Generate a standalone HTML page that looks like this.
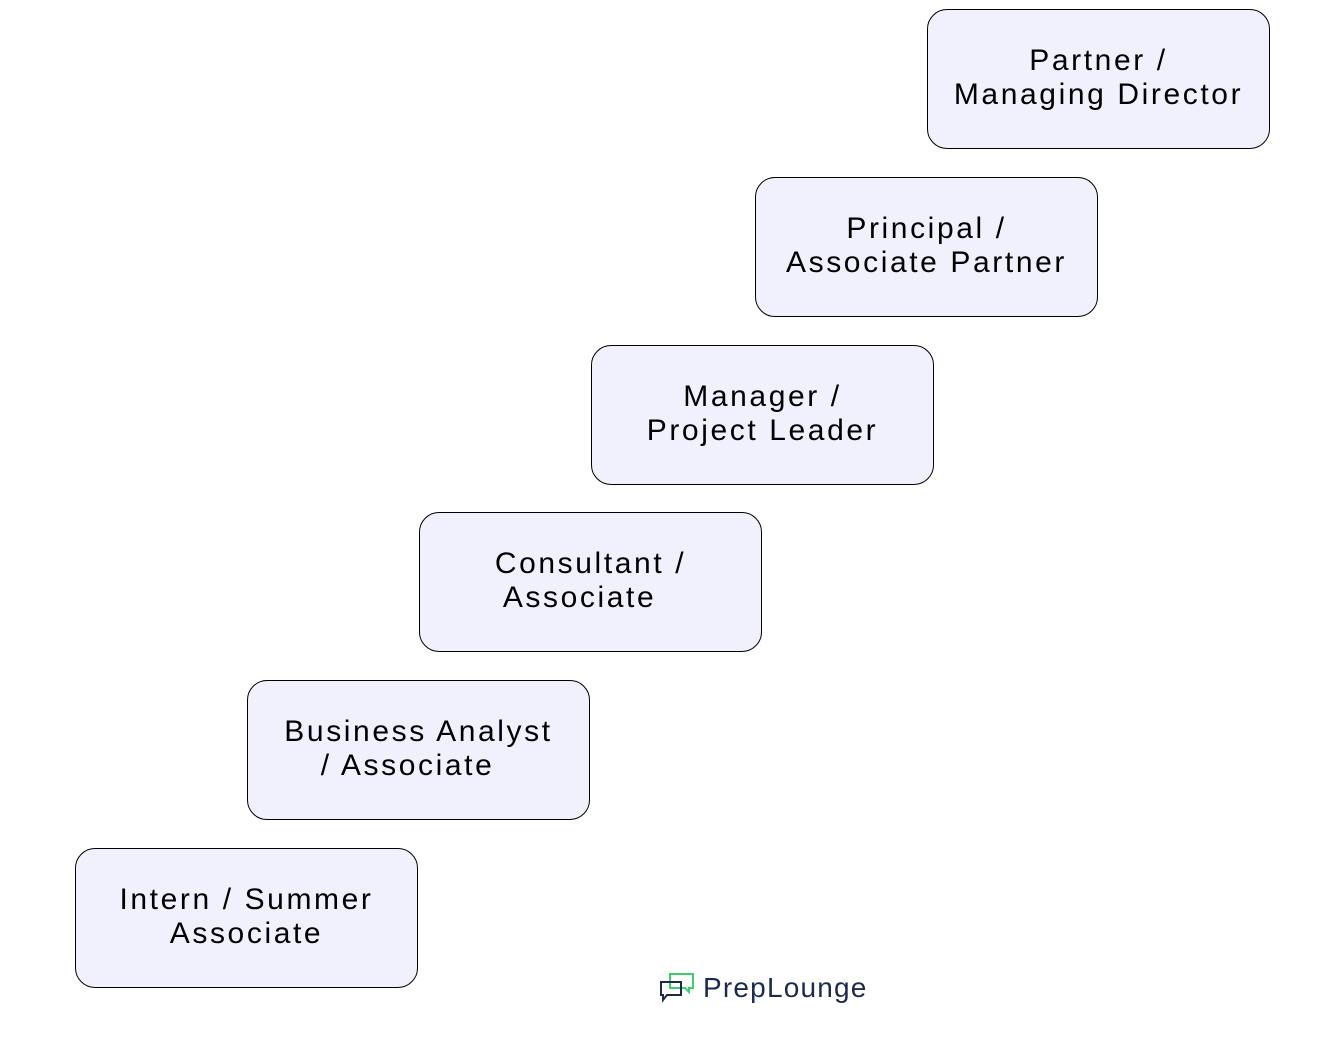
<!DOCTYPE html>
<html><head><meta charset="utf-8"><style>
body{margin:0;width:1319px;height:1058px;background:#fff;position:relative;font-family:"Liberation Sans",sans-serif;overflow:hidden}
.b{position:absolute;width:341px;height:135px;border:1.5px solid #000;border-radius:20px;background:#f1f0fd;box-sizing:content-box;display:flex;align-items:center;justify-content:center;text-align:center;font-size:30px;line-height:34px;color:#000;letter-spacing:2.6px;padding-bottom:3px}
.logo{position:absolute;left:659px;top:972px;display:flex;align-items:center}
.logo span{font-size:28px;color:#1b2a4e;margin-left:8px;letter-spacing:1.2px}
</style></head><body>
<div class="b" style="left:927px;top:9px">Partner /<br>Managing Director</div>
<div class="b" style="left:755px;top:177px">Principal /<br>Associate Partner</div>
<div class="b" style="left:591px;top:345px">Manager /<br>Project Leader</div>
<div class="b" style="left:419px;top:512px">Consultant /<br>Associate&nbsp;&nbsp;</div>
<div class="b" style="left:247px;top:680px">Business Analyst<br>/ Associate&nbsp;&nbsp;</div>
<div class="b" style="left:75px;top:848px">Intern / Summer<br>Associate</div>
<div class="logo">
<svg width="36" height="32" viewBox="0 0 36 32">
<path d="M11 2h23v14h-4v4l-4-4H11z" fill="none" stroke="#3ccf6e" stroke-width="2"/>
<path d="M2 10h20v13H8l-4 5v-5H2z" fill="none" stroke="#1b2a4e" stroke-width="2"/>
</svg><span>PrepLounge</span></div>
</body></html>
